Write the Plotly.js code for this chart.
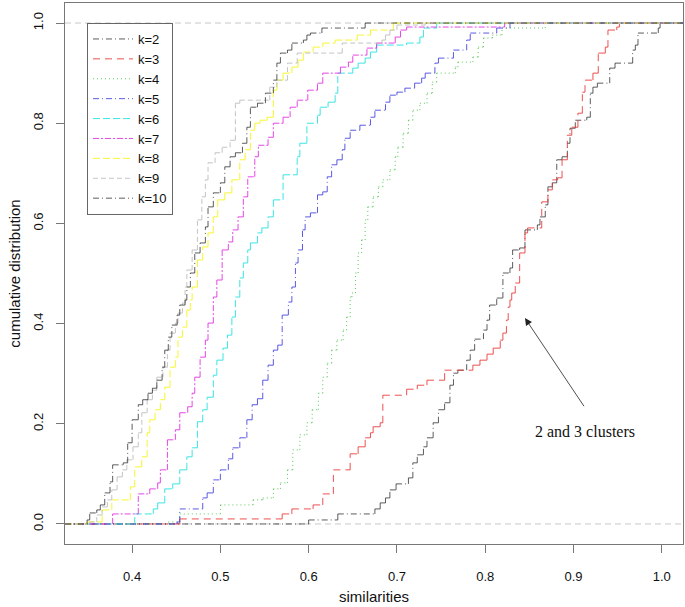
<!DOCTYPE html>
<html>
<head>
<meta charset="utf-8">
<script src="https://cdn.plot.ly/plotly-3.0.1.min.js"></script>
<style>html,body{margin:0;padding:0;background:#fff;}#chart{width:685px;height:607px;}</style>
</head>
<body>
<div id="chart"></div>
<script>
// ECDF jump points [similarity, cumulative value after the jump]
const k2 = [[0.600,0.008],[0.633,0.020],[0.675,0.030],[0.681,0.042],[0.687,0.052],[0.692,0.068],[0.699,0.080],[0.713,0.092],[0.718,0.122],[0.723,0.138],[0.730,0.154],[0.734,0.172],[0.741,0.202],[0.747,0.228],[0.754,0.242],[0.760,0.277],[0.764,0.301],[0.769,0.307],[0.779,0.327],[0.783,0.347],[0.788,0.369],[0.798,0.387],[0.802,0.407],[0.805,0.437],[0.813,0.451],[0.820,0.501],[0.828,0.511],[0.831,0.547],[0.839,0.551],[0.845,0.587],[0.859,0.597],[0.862,0.613],[0.868,0.637],[0.871,0.673],[0.876,0.681],[0.881,0.727],[0.887,0.733],[0.893,0.760],[0.896,0.790],[0.902,0.806],[0.915,0.812],[0.919,0.860],[0.922,0.872],[0.927,0.880],[0.941,0.910],[0.947,0.920],[0.967,0.946],[0.970,0.956],[0.973,0.980],[0.996,0.990],[0.998,1.0]];
const k3 = [[0.454,0.010],[0.570,0.020],[0.581,0.030],[0.605,0.038],[0.616,0.060],[0.628,0.108],[0.647,0.140],[0.656,0.154],[0.664,0.172],[0.670,0.182],[0.673,0.194],[0.681,0.202],[0.684,0.257],[0.711,0.269],[0.723,0.277],[0.734,0.287],[0.754,0.307],[0.786,0.317],[0.794,0.327],[0.802,0.339],[0.809,0.351],[0.817,0.367],[0.820,0.381],[0.824,0.407],[0.826,0.433],[0.828,0.447],[0.830,0.461],[0.834,0.481],[0.839,0.541],[0.845,0.581],[0.848,0.591],[0.864,0.643],[0.871,0.667],[0.876,0.687],[0.882,0.691],[0.887,0.727],[0.893,0.776],[0.898,0.792],[0.905,0.820],[0.910,0.862],[0.913,0.886],[0.922,0.900],[0.928,0.940],[0.936,0.952],[0.939,0.986],[0.949,0.992],[0.952,1.0]];
const k4 = [[0.441,0.004],[0.454,0.020],[0.500,0.038],[0.537,0.048],[0.548,0.052],[0.560,0.070],[0.568,0.082],[0.576,0.108],[0.582,0.148],[0.590,0.178],[0.598,0.202],[0.604,0.228],[0.611,0.261],[0.616,0.293],[0.621,0.321],[0.626,0.347],[0.632,0.367],[0.639,0.387],[0.643,0.413],[0.647,0.453],[0.649,0.461],[0.653,0.501],[0.656,0.541],[0.660,0.567],[0.664,0.607],[0.667,0.633],[0.673,0.653],[0.679,0.673],[0.684,0.687],[0.692,0.707],[0.698,0.733],[0.701,0.752],[0.707,0.780],[0.713,0.806],[0.718,0.826],[0.726,0.840],[0.734,0.860],[0.740,0.882],[0.745,0.900],[0.766,0.912],[0.769,0.922],[0.786,0.932],[0.792,0.952],[0.798,0.970],[0.808,0.976],[0.819,0.990],[0.868,1.0]];
const k5 = [[0.451,0.004],[0.454,0.030],[0.480,0.052],[0.485,0.062],[0.492,0.088],[0.500,0.108],[0.509,0.130],[0.514,0.152],[0.522,0.172],[0.530,0.208],[0.536,0.238],[0.542,0.250],[0.548,0.287],[0.554,0.317],[0.560,0.347],[0.565,0.357],[0.570,0.417],[0.577,0.443],[0.581,0.473],[0.585,0.521],[0.588,0.547],[0.593,0.587],[0.596,0.613],[0.602,0.621],[0.610,0.657],[0.616,0.663],[0.621,0.693],[0.626,0.717],[0.632,0.727],[0.638,0.747],[0.641,0.770],[0.647,0.786],[0.658,0.796],[0.670,0.812],[0.675,0.826],[0.687,0.842],[0.692,0.856],[0.700,0.862],[0.709,0.870],[0.720,0.880],[0.728,0.890],[0.732,0.900],[0.743,0.920],[0.747,0.930],[0.764,0.946],[0.779,0.966],[0.783,0.980],[0.813,0.990],[0.828,1.0]];
const k6 = [[0.403,0.020],[0.424,0.030],[0.429,0.042],[0.437,0.070],[0.446,0.080],[0.454,0.108],[0.462,0.134],[0.468,0.152],[0.474,0.204],[0.480,0.228],[0.485,0.253],[0.492,0.297],[0.496,0.327],[0.503,0.351],[0.508,0.377],[0.513,0.413],[0.517,0.453],[0.522,0.491],[0.526,0.521],[0.531,0.547],[0.534,0.561],[0.542,0.581],[0.547,0.591],[0.554,0.613],[0.560,0.647],[0.571,0.697],[0.587,0.733],[0.590,0.760],[0.598,0.800],[0.610,0.816],[0.613,0.832],[0.622,0.842],[0.630,0.860],[0.633,0.900],[0.650,0.910],[0.656,0.920],[0.664,0.930],[0.670,0.942],[0.677,0.956],[0.711,0.960],[0.726,0.972],[0.730,0.990],[0.745,1.0]];
const k7 = [[0.378,0.020],[0.407,0.060],[0.420,0.070],[0.429,0.082],[0.432,0.108],[0.440,0.168],[0.449,0.188],[0.454,0.222],[0.463,0.234],[0.468,0.261],[0.471,0.293],[0.477,0.333],[0.483,0.367],[0.486,0.401],[0.492,0.453],[0.496,0.487],[0.502,0.547],[0.509,0.563],[0.514,0.587],[0.520,0.613],[0.526,0.653],[0.531,0.693],[0.539,0.733],[0.543,0.756],[0.554,0.772],[0.560,0.800],[0.571,0.812],[0.579,0.832],[0.587,0.846],[0.599,0.866],[0.610,0.880],[0.616,0.900],[0.636,0.912],[0.645,0.922],[0.650,0.936],[0.666,0.950],[0.677,0.960],[0.698,0.972],[0.704,0.986],[0.711,0.992],[0.822,1.0]];
const k8 = [[0.349,0.004],[0.366,0.028],[0.377,0.048],[0.398,0.074],[0.403,0.114],[0.411,0.134],[0.417,0.182],[0.420,0.208],[0.426,0.228],[0.432,0.248],[0.437,0.273],[0.443,0.313],[0.449,0.333],[0.452,0.373],[0.457,0.393],[0.462,0.427],[0.466,0.447],[0.468,0.473],[0.474,0.527],[0.480,0.553],[0.486,0.581],[0.492,0.613],[0.497,0.647],[0.505,0.661],[0.513,0.687],[0.522,0.727],[0.528,0.747],[0.534,0.786],[0.539,0.800],[0.545,0.806],[0.553,0.812],[0.560,0.866],[0.564,0.886],[0.571,0.900],[0.581,0.912],[0.588,0.926],[0.594,0.942],[0.605,0.952],[0.616,0.960],[0.630,0.966],[0.655,0.976],[0.670,0.986],[0.696,1.0]];
const k9 = [[0.352,0.004],[0.360,0.018],[0.366,0.034],[0.372,0.048],[0.377,0.068],[0.383,0.094],[0.389,0.108],[0.394,0.128],[0.401,0.154],[0.407,0.182],[0.411,0.222],[0.417,0.248],[0.423,0.267],[0.428,0.293],[0.435,0.313],[0.440,0.347],[0.443,0.381],[0.449,0.401],[0.452,0.421],[0.457,0.441],[0.460,0.473],[0.462,0.507],[0.468,0.547],[0.474,0.607],[0.479,0.653],[0.483,0.687],[0.486,0.721],[0.494,0.741],[0.502,0.752],[0.511,0.766],[0.517,0.840],[0.522,0.846],[0.556,0.872],[0.564,0.886],[0.576,0.920],[0.587,0.940],[0.638,0.960],[0.683,0.966],[0.687,0.976],[0.692,0.986],[0.700,0.996],[0.732,1.0]];
const k10 = [[0.349,0.008],[0.352,0.022],[0.360,0.028],[0.364,0.038],[0.369,0.062],[0.375,0.084],[0.378,0.118],[0.390,0.122],[0.395,0.162],[0.400,0.208],[0.407,0.238],[0.412,0.248],[0.418,0.261],[0.423,0.271],[0.428,0.287],[0.434,0.313],[0.437,0.347],[0.441,0.373],[0.445,0.397],[0.451,0.417],[0.454,0.437],[0.460,0.447],[0.462,0.473],[0.466,0.501],[0.471,0.541],[0.477,0.561],[0.483,0.593],[0.486,0.633],[0.492,0.661],[0.500,0.681],[0.505,0.713],[0.511,0.733],[0.517,0.741],[0.525,0.760],[0.530,0.792],[0.534,0.832],[0.542,0.840],[0.551,0.860],[0.560,0.886],[0.564,0.920],[0.568,0.940],[0.576,0.946],[0.581,0.960],[0.594,0.966],[0.598,0.976],[0.602,0.980],[0.615,0.990],[0.664,1.0]];

const seriesNames = ['k=2','k=3','k=4','k=5','k=6','k=7','k=8','k=9','k=10'];
const seriesData = [k2,k3,k4,k5,k6,k7,k8,k9,k10];
const seriesColors = ['rgba(30,30,30,0.72)','rgba(235,50,50,0.85)','rgba(60,190,60,0.85)','rgba(50,50,220,0.8)','rgba(40,225,225,0.9)','rgba(225,40,225,0.85)','rgba(245,245,40,0.95)','rgba(190,190,190,0.9)','rgba(30,30,30,0.72)'];
const seriesDash = ['6px,3px,1px,3px','7px,5px','1px,3px','6px,3px,1px,3px','7px,3px','6px,2px,2px,2px','7px,3px','5px,3px','6px,3px,1px,3px'];

const xTicks = [0.4,0.5,0.6,0.7,0.8,0.9,1.0];
const yTicks = [0.0,0.2,0.4,0.6,0.8,1.0];
const xRange = [0.324,1.024];
const yRange = [-0.04,1.04];

const annText = '2 and 3 clusters';
const annTip = [0.845,0.411];
const annTail = [0.913,0.232];
const annTextPos = [0.913,0.184];

// Step function drawn as separate horizontal / vertical segments (dash restarts on each, as R's plot.stepfun does)
function stepSegments(d){
  const pts = [[xRange[0],0]].concat(d,[[xRange[1],1]]);
  const xs=[], ys=[];
  for(let i=0;i<pts.length-1;i++){
    xs.push(pts[i][0], pts[i+1][0], null); ys.push(pts[i][1], pts[i][1], null);
    xs.push(pts[i+1][0], pts[i+1][0], null); ys.push(pts[i][1], pts[i+1][1], null);
  }
  return {xs, ys};
}

const traces = seriesData.map((d,i)=>{
  const s = stepSegments(d);
  return {x:s.xs,y:s.ys,type:'scatter',mode:'lines',name:seriesNames[i],connectgaps:false,
    line:{color:seriesColors[i],width:1,dash:seriesDash[i]}};
});

const axisFont = {family:'Liberation Sans, Arial, sans-serif',size:13,color:'#111'};
const layout = {
  width:685,height:607,
  margin:{l:65,r:2,t:3,b:63},
  paper_bgcolor:'#fff',plot_bgcolor:'#fff',
  showlegend:true,
  legend:{x:0.0356,y:0.963,xanchor:'left',yanchor:'top',bgcolor:'#fff',
    bordercolor:'#666',borderwidth:1,font:{family:'Liberation Sans, Arial, sans-serif',size:13,color:'#111'},
    itemwidth:40,tracegroupgap:0},
  xaxis:{range:xRange,tickvals:xTicks,ticktext:xTicks.map(v=>v.toFixed(1)),
    showgrid:false,zeroline:false,showline:true,mirror:true,linecolor:'#777',linewidth:1,
    ticks:'outside',ticklen:8,tickcolor:'#777',tickfont:axisFont,ticklabelstandoff:12,
    title:{text:'similarities',font:{family:'Liberation Sans, Arial, sans-serif',size:15,color:'#111'},standoff:8}},
  yaxis:{range:yRange,tickvals:yTicks,ticktext:yTicks.map(v=>v.toFixed(1)),
    showgrid:false,zeroline:false,showline:true,mirror:true,linecolor:'#777',linewidth:1,
    ticks:'outside',ticklen:8,tickcolor:'#777',tickfont:axisFont,tickangle:-90,ticklabelstandoff:8,
    title:{text:'cumulative distribution',font:{family:'Liberation Sans, Arial, sans-serif',size:15,color:'#111'},standoff:6}},
  shapes:[
    {type:'line',xref:'paper',x0:0,x1:1,yref:'y',y0:0,y1:0,line:{color:'#c8c8c8',width:1,dash:'6px,4px'},layer:'below'},
    {type:'line',xref:'paper',x0:0,x1:1,yref:'y',y0:1,y1:1,line:{color:'#c8c8c8',width:1,dash:'6px,4px'},layer:'below'}
  ],
  annotations:[
    {x:annTip[0],y:annTip[1],ax:annTail[0],ay:annTail[1],axref:'x',ayref:'y',xref:'x',yref:'y',
      text:'',showarrow:true,arrowhead:2,arrowsize:1.8,arrowwidth:0.8,arrowcolor:'#222'},
    {x:annTextPos[0],y:annTextPos[1],xref:'x',yref:'y',text:annText,showarrow:false,
      font:{family:'Liberation Serif, Times New Roman, serif',size:16,color:'#111'}}
  ]
};
Plotly.newPlot('chart',traces,layout,{displayModeBar:false,staticPlot:true});
</script>
</body>
</html>
